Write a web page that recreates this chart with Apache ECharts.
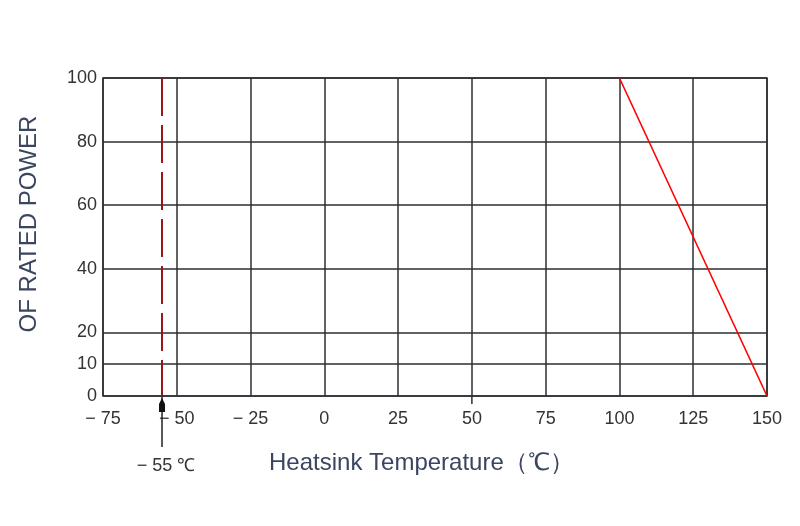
<!DOCTYPE html>
<html><head><meta charset="utf-8">
<script src="https://cdn.jsdelivr.net/npm/echarts@6/dist/echarts.min.js"></script>
<style>html,body{margin:0;padding:0;background:#fff}#c{width:800px;height:526px}</style>
</head><body><div id="c"></div>
<script>
const xMin = -75, xMax = 150, xStep = 25;
const yTicks = [0, 10, 20, 40, 60, 80, 100];
const deratingCurve = [[100, 100], [150, 0]];
const minTemp = -55;
const minTempLabel = '-55 ℃';
const strayTicks = [50];
const xTitle = 'Heatsink Temperature（℃）';
const yTitle = 'OF RATED POWER';

const chart = echarts.init(document.getElementById('c'));
const gridColor = '#2b2f33';
const labelFont = { color: '#333', fontSize: 18, fontFamily: 'Liberation Sans' };
const fmtMinus = s => String(s).replace('-', '− ');

chart.setOption({
  animation: false,
  title: {
    text: xTitle, left: 269, top: 451, padding: 0,
    textStyle: { color: '#3a4560', fontSize: 24, fontWeight: 'normal', fontFamily: 'Liberation Sans' }
  },
  grid: { left: 103, right: 33, top: 78, bottom: 130, show: true, borderColor: gridColor, borderWidth: 1.5 },
  xAxis: {
    type: 'value', min: xMin, max: xMax, interval: xStep,
    axisLine: { show: false }, axisTick: { show: false },
    splitLine: { show: true, lineStyle: { color: gridColor, width: 1.5 } },
    axisLabel: Object.assign({ margin: 14, formatter: v => fmtMinus(v) }, labelFont)
  },
  yAxis: {
    type: 'value', min: 0, max: 100,
    name: yTitle, nameLocation: 'middle', nameGap: 62,
    nameTextStyle: { color: '#3a4560', fontSize: 24, fontFamily: 'Liberation Sans', padding: [0, 0, 0, 26] },
    axisLine: { show: false }, axisTick: { show: false },
    splitLine: { show: false },
    axisLabel: Object.assign({ margin: 6, customValues: yTicks }, labelFont)
  },
  series: [
    {
      type: 'line', data: [], silent: true,
      markLine: {
        silent: true, symbol: 'none', label: { show: false },
        lineStyle: { color: gridColor, width: 1.5, type: 'solid' },
        data: yTicks.map(v => ({ yAxis: v }))
      }
    },
    {
      type: 'line', data: [], silent: true, z: 5,
      markLine: {
        silent: true, symbol: 'none', label: { show: false },
        lineStyle: { color: '#9a1515', width: 2, type: [38, 9] },
        data: [[{ coord: [minTemp, 100] }, { coord: [minTemp, 0] }]]
      }
    },
    {
      type: 'line', data: deratingCurve, showSymbol: false, z: 6,
      lineStyle: { color: '#ff0000', width: 1.6 }
    },
    {
      type: 'custom', clip: false, silent: true, z: 7,
      data: [[minTemp, 0]],
      renderItem: function (params, api) {
        const p = api.coord([api.value(0), api.value(1)]);
        return {
          type: 'group',
          children: [
            { type: 'line', shape: { x1: p[0], y1: p[1], x2: p[0], y2: p[1] + 51 }, style: { stroke: '#222', lineWidth: 1.5 } },
            { type: 'polygon', shape: { points: [[p[0], p[1] + 2], [p[0] - 3, p[1] + 8], [p[0] - 3, p[1] + 16], [p[0] + 3, p[1] + 16], [p[0] + 3, p[1] + 8]] }, style: { fill: '#111' } },
            { type: 'text', style: { text: fmtMinus(minTempLabel), x: p[0] + 4, y: p[1] + 70, align: 'center', verticalAlign: 'middle', fill: '#333', fontSize: 18, fontFamily: 'Liberation Sans' } }
          ]
        };
      }
    },
    {
      type: 'custom', clip: false, silent: true, z: 7,
      data: strayTicks.map(v => [v, 0]),
      renderItem: function (params, api) {
        const p = api.coord([api.value(0), api.value(1)]);
        return { type: 'line', shape: { x1: p[0], y1: p[1], x2: p[0], y2: p[1] + 8 }, style: { stroke: gridColor, lineWidth: 1.5 } };
      }
    }
  ]
});
</script></body></html>
